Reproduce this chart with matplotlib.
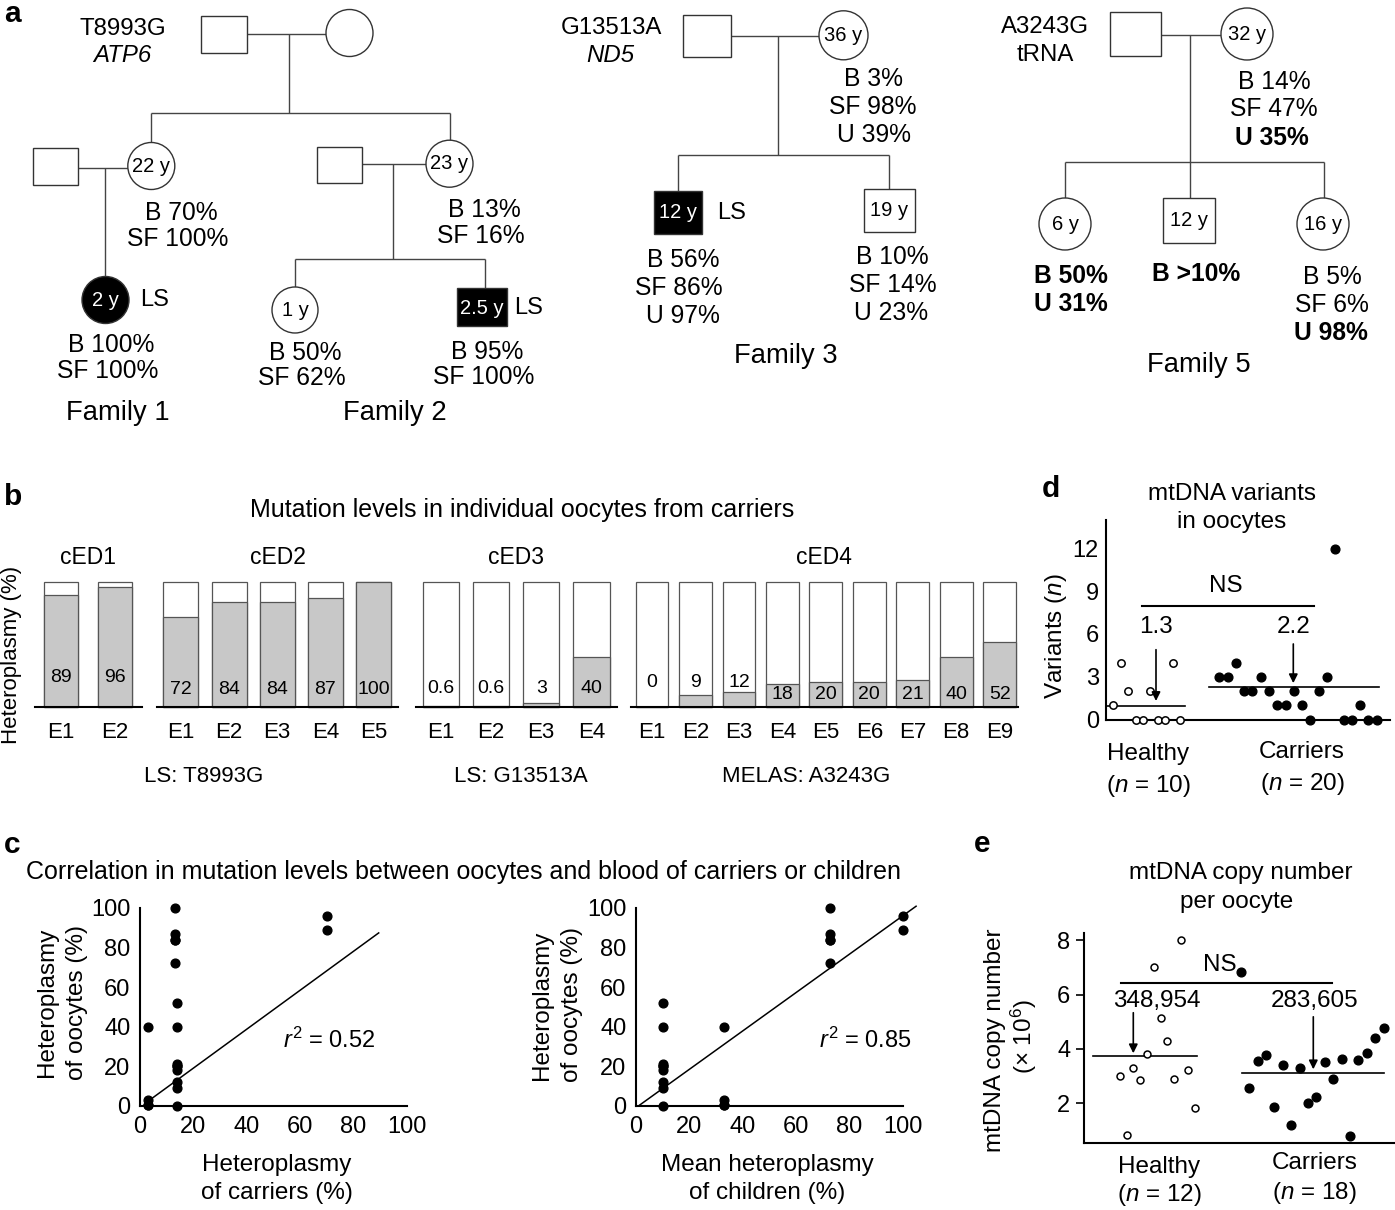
import numpy as np
import matplotlib
matplotlib.use('Agg')
import matplotlib.pyplot as plt
from matplotlib.patches import Rectangle, Circle

plt.rcParams['font.family'] = ['Liberation Sans', 'DejaVu Sans']
plt.rcParams['mathtext.fontset'] = 'custom'
plt.rcParams['mathtext.rm'] = 'Liberation Sans'
plt.rcParams['mathtext.it'] = 'Liberation Sans:italic'
plt.rcParams['mathtext.bf'] = 'Liberation Sans:bold'

# ------------------------------------------------------------------ data
# panel b : heteroplasmy (%) of individual oocytes
b_groups = ['cED1', 'cED2', 'cED3', 'cED4']
ced1_het = [89, 96]
ced2_het = [72, 84, 84, 87, 100]
ced3_het = [0.6, 0.6, 3, 40]
ced4_het = [0, 9, 12, 18, 20, 20, 21, 40, 52]
b_disease = ['LS: T8993G', 'LS: G13513A', 'MELAS: A3243G']

# panel c : oocyte heteroplasmy vs carrier blood / mean of children
c_left_x = [3, 3, 3, 3, 13, 13, 13, 13, 13, 14, 14, 14, 14, 14, 14, 14, 14, 14, 70, 70]
c_left_y = [0.6, 0.6, 3, 40, 72, 84, 84, 87, 100, 0, 9, 12, 18, 20, 20, 21, 40, 52, 89, 96]
c_right_x = [10, 10, 10, 10, 10, 10, 10, 10, 10, 33, 33, 33, 33, 72.5, 72.5, 72.5, 72.5, 72.5, 100, 100]
c_right_y = [0, 9, 12, 18, 20, 20, 21, 40, 52, 0.6, 0.6, 3, 40, 72, 84, 84, 87, 100, 89, 96]
c_fit_slope = [0.984, 0.970]
c_fit_intercept = [-0.55, -0.86]
c_fit_xrange = [(3.1, 89.4), (1.4, 104.9)]
c_r2 = [0.52, 0.85]

# panel d : number of mtDNA variants per oocyte
d_healthy = [1, 4, 2, 0, 0, 2, 0, 0, 4, 0]
d_carriers = [3, 3, 4, 2, 2, 3, 2, 1, 1, 2, 1, 0, 2, 3, 12, 0, 0, 1, 0, 0]
d_mean_line = [0.97, 2.3]
d_mean_label = ['1.3', '2.2']

# panel e : mtDNA copy number per oocyte (x 10^6)
e_healthy = [3.0, 0.85, 3.3, 2.87, 3.82, 7.0, 5.15, 4.3, 2.9, 8.0, 3.23, 1.81]
e_carriers = [6.84, 2.56, 3.57, 3.77, 1.85, 3.42, 1.21, 3.28, 2.01, 2.25, 3.51,
              2.89, 3.63, 0.81, 3.6, 3.84, 4.39, 4.76]
e_mean_line = [3.74, 3.10]
e_mean_label = ['348,954', '283,605']

# ------------------------------------------------------------------ figure
W, H = 1395, 1210
fig = plt.figure(figsize=(W / 100, H / 100), dpi=100)
bg = fig.add_axes([0, 0, 1, 1])
bg.set_xlim(0, W)
bg.set_ylim(H, 0)
bg.axis('off')


def px_axes(x0, x1, ytop, ybot):
    ax = fig.add_axes([x0 / W, 1 - ybot / H, (x1 - x0) / W, (ybot - ytop) / H])
    ax.patch.set_alpha(0)
    return ax


def txt(s, x, y, size=17.5, **kw):
    kw.setdefault('ha', 'center')
    kw.setdefault('va', 'center')
    bg.text(x, y, s, fontsize=size, **kw)


# panel letters
for lab, x, y in [('a', 4, 22), ('b', 4, 505), ('c', 4, 853), ('d', 1042, 497), ('e', 974, 852)]:
    bg.text(x, y, lab, fontsize=21.5, fontweight='bold', ha='left', va='baseline')

# ------------------------------------------------------------------ panel a (pedigrees)
LINE_C = '#444444'
ped_lines = [
    (246.7, 34, 325.7, 34), (289, 34, 289, 113.3), (151.3, 113.3, 449.5, 113.3),
    (151.3, 113.3, 151.3, 150), (449.5, 113.3, 449.5, 150),
    (78.3, 168.3, 130, 168.3), (105, 168.3, 105, 290),
    (361.7, 164, 430, 164), (393.3, 164, 393.3, 259.3), (295, 259.3, 484.7, 259.3),
    (295, 259.3, 295, 300), (484.7, 259.3, 484.7, 300),
    (731, 36, 825, 36), (778, 36, 778, 155), (678, 155, 889, 155),
    (678, 155, 678, 200), (889, 155, 889, 200),
    (1161, 35, 1230, 35), (1190, 35, 1190, 210), (1065, 161.7, 1324, 161.7),
    (1065, 161.7, 1065, 210), (1324, 161.7, 1324, 210),
]
for x0, y0, x1, y1 in ped_lines:
    bg.plot([x0, x1], [y0, y1], color=LINE_C, lw=1.0, zorder=1, solid_capstyle='butt')

ped_squares = [
    (201, 15.7, 246.7, 52.7, False), (33.3, 148.3, 78.3, 185, False),
    (316.7, 146.7, 361.7, 183.3, False), (456.7, 288.3, 506.7, 326, True),
    (683, 15, 731, 57, False), (653.7, 190.7, 702.3, 234, True),
    (863.5, 189, 914.9, 231.7, False), (1110, 11.7, 1161, 56, False),
    (1163, 198, 1215, 243, False),
]
for x0, y0, x1, y1, filled in ped_squares:
    bg.add_patch(Rectangle((x0, y0), x1 - x0, y1 - y0, facecolor='black' if filled else 'white',
                           edgecolor='#333333', lw=1.0, zorder=2))

ped_circles = [
    (349.5, 33, 23.5, False), (151.3, 166, 23.5, False), (449.5, 163.7, 23.5, False),
    (105.5, 300, 23.5, True), (295, 310, 23, False), (843.5, 35.3, 24.5, False),
    (1247, 34, 26, False), (1065, 224, 26, False), (1323, 224, 26, False),
]
for cx, cy, r, filled in ped_circles:
    bg.add_patch(Circle((cx, cy), r, facecolor='black' if filled else 'white',
                        edgecolor='#333333', lw=1.0, zorder=2))

ped_ages = [
    ('22 y', 151.3, 166, 'black'), ('23 y', 449.5, 163.7, 'black'), ('2 y', 105.5, 300, 'white'),
    ('1 y', 295, 310, 'black'), ('2.5 y', 481.7, 308.3, 'white'), ('36 y', 843.5, 35.3, 'black'),
    ('12 y', 678, 212.3, 'white'), ('19 y', 889, 210.3, 'black'), ('32 y', 1247, 34, 'black'),
    ('6 y', 1065, 224, 'black'), ('12 y', 1189, 220.5, 'black'), ('16 y', 1323, 224, 'black'),
]
for s, x, y, c in ped_ages:
    txt(s, x, y, size=14.5, color=c, zorder=3)

# gene labels
txt('T8993G', 123, 29, size=17.3)
txt('ATP6', 122, 56, size=17.3, style='italic')
txt('G13513A', 611, 28, size=17.3)
txt('ND5', 610, 56, size=17.3, style='italic')
txt('A3243G', 1045, 27, size=17.3)
txt('tRNA', 1045, 55, size=17.3)

# disease labels
for x, y in [(155, 300), (528.3, 308.3), (732, 213)]:
    txt('LS', x, y, size=17)

# heteroplasmy annotations (B blood, SF skin fibroblast, U urine)
ped_notes = [
    ('B 70%', 181, 213, 'normal'), ('SF 100%', 178, 239, 'normal'),
    ('B 100%', 111, 345, 'normal'), ('SF 100%', 108, 371, 'normal'),
    ('B 13%', 484, 210, 'normal'), ('SF 16%', 481, 236, 'normal'),
    ('B 50%', 305, 353, 'normal'), ('SF 62%', 302, 378, 'normal'),
    ('B 95%', 487, 352, 'normal'), ('SF 100%', 484, 377, 'normal'),
    ('B 3%', 873, 79, 'normal'), ('SF 98%', 873, 107, 'normal'), ('U 39%', 874, 135, 'normal'),
    ('B 56%', 683, 260, 'normal'), ('SF 86%', 679, 288, 'normal'), ('U 97%', 683, 316, 'normal'),
    ('B 10%', 892.5, 257, 'normal'), ('SF 14%', 892.5, 285, 'normal'), ('U 23%', 891, 313, 'normal'),
    ('B 14%', 1274, 82, 'normal'), ('SF 47%', 1274, 109, 'normal'), ('U 35%', 1272, 138, 'bold'),
    ('B 50%', 1071, 276, 'bold'), ('U 31%', 1071, 304, 'bold'),
    ('B >10%', 1196, 274, 'bold'),
    ('B 5%', 1332, 277, 'normal'), ('SF 6%', 1332, 305, 'normal'), ('U 98%', 1331, 333, 'bold'),
]
for s, x, y, w in ped_notes:
    txt(s, x, y, size=17.7, fontweight=w)

for s, x, y in [('Family 1', 117.5, 412.5), ('Family 2', 395, 412.5),
                ('Family 3', 786, 356), ('Family 5', 1198.5, 365)]:
    txt(s, x, y, size=19.7)

# ------------------------------------------------------------------ panel b
txt('Mutation levels in individual oocytes from carriers', 522, 510, size=18)
txt('Heteroplasmy (%)', 12, 655, size=16, rotation=90)

b_values = [ced1_het, ced2_het, ced3_het, ced4_het]
# layout: axis x0, x1, first bar centre, bar step, bar width (pixels)
b_layout = [(35, 141.7, 61.3, 53.4, 34), (156.7, 398.3, 180.8, 48.2, 35),
            (416, 616.7, 440.8, 50.2, 36.3), (630.7, 1018, 652, 43.46, 32.7)]
b_label_y = [[23, 23], [13.5] * 5, [14.5] * 4, [19.5, 19.5, 19.5] + [9.5] * 6]
BAR_EDGE = '#555555'
for vals, name, (x0, x1, c0, st, bw), laby in zip(b_values, b_groups, b_layout, b_label_y):
    ax = px_axes(x0, x1, 581.7, 706.7)
    idx = np.arange(len(vals))
    ax.bar(idx, np.full(len(vals), 100.0), width=bw / st, color='white', edgecolor=BAR_EDGE,
           lw=0.9, clip_on=False, zorder=1)
    ax.bar(idx, vals, width=bw / st, color='#c8c8c8', edgecolor=BAR_EDGE, lw=0.9,
           clip_on=False, zorder=1.5)
    ax.set_xlim(-(c0 - x0) / st, (x1 - c0) / st)
    ax.set_ylim(0, 100)
    for sp in ['left', 'right', 'top']:
        ax.spines[sp].set_visible(False)
    ax.spines['bottom'].set_linewidth(1.5)
    ax.spines['bottom'].set_zorder(3)
    ax.set_yticks([])
    ax.set_xticks(idx, [f'E{i + 1}' for i in idx])
    ax.tick_params(axis='x', length=0, pad=11, labelsize=16)
    ax.set_title(name, fontsize=16.5, pad=13)
    for i, v in enumerate(vals):
        ax.text(i, laby[i], f'{v:g}', ha='center', va='center', fontsize=14, zorder=4)

for s, x in zip(b_disease, [204, 521, 806]):
    txt(s, x, 777, size=16)

# ------------------------------------------------------------------ panel c
txt('Correlation in mutation levels between oocytes and blood of carriers or children',
    463.5, 872, size=18)
c_axes_x = [(140, 407), (636, 903)]
c_sets = [(c_left_x, c_left_y), (c_right_x, c_right_y)]
c_r2_pos = [(71, 33.4), (86, 33.2)]
for k in range(2):
    ax = px_axes(c_axes_x[k][0], c_axes_x[k][1], 908, 1106)
    xs, ys = c_sets[k]
    ax.plot(xs, ys, 'o', color='black', ms=6.3, ls='none', clip_on=False, zorder=3)
    xr = np.array(c_fit_xrange[k])
    ax.plot(xr, c_fit_slope[k] * xr + c_fit_intercept[k], color='black', lw=1.1,
            clip_on=False, zorder=2)
    ax.set_xlim(0, 100)
    ax.set_ylim(0, 100)
    for sp in ['right', 'top']:
        ax.spines[sp].set_visible(False)
    for sp in ['left', 'bottom']:
        ax.spines[sp].set_linewidth(1.5)
    ax.set_xticks([0, 20, 40, 60, 80, 100])
    ax.set_yticks([0, 20, 40, 60, 80, 100])
    ax.tick_params(length=0, labelsize=17, pad=7)
    ax.text(*c_r2_pos[k], r'$\mathit{r}^{2}$ = ' + f'{c_r2[k]:.2f}', ha='center', va='center',
            fontsize=17)

txt('Heteroplasmy', 47, 1002, rotation=90)
txt('of oocytes (%)', 77.5, 1002, rotation=90)
txt('Heteroplasmy', 277, 1165)
txt('of carriers (%)', 277, 1193)
txt('Heteroplasmy', 542, 1005, rotation=90)
txt('of oocytes (%)', 572, 1005, rotation=90)
txt('Mean heteroplasmy', 767, 1165)
txt('of children (%)', 767, 1193)

# ------------------------------------------------------------------ panel d
txt('mtDNA variants', 1232, 494, size=17.5)
txt('in oocytes', 1232, 522, size=17.5)
axd = px_axes(1105.7, 1390, 520, 719.5)
axd.set_xlim(0, 284.3)
axd.set_ylim(0, 14)
hx = 7.6 + 7.4 * np.arange(len(d_healthy))
cx = 113.6 + 8.28 * np.arange(len(d_carriers))
axd.plot(hx, d_healthy, 'o', mfc='white', mec='black', mew=1.1, ms=5.3, ls='none',
         clip_on=False, zorder=3)
axd.plot(cx, d_carriers, 'o', color='black', ms=6.3, ls='none', clip_on=False, zorder=3)
axd.plot([1.6, 78.9], [d_mean_line[0]] * 2, color='black', lw=1.2)
axd.plot([103.3, 273.3], [d_mean_line[1]] * 2, color='black', lw=1.2)
axd.plot([36.6, 208.6], [7.96, 7.96], color='black', lw=1.5)
axd.text(120, 9.4, 'NS', ha='center', va='center', fontsize=17.5)
for xa, lab, ytop, ytip in [(50.3, d_mean_label[0], 4.9, 1.3), (187.6, d_mean_label[1], 5.3, 2.55)]:
    axd.text(xa, 6.5, lab, ha='center', va='center', fontsize=17.5)
    axd.annotate('', xy=(xa, ytip), xytext=(xa, ytop),
                 arrowprops=dict(arrowstyle='-|>', color='black', lw=1.2, mutation_scale=13,
                                 shrinkA=0, shrinkB=0))
for sp in ['right', 'top']:
    axd.spines[sp].set_visible(False)
for sp in ['left', 'bottom']:
    axd.spines[sp].set_linewidth(1.5)
axd.set_xticks([])
axd.set_yticks([0, 3, 6, 9, 12])
axd.tick_params(length=0, labelsize=17, pad=5)
txt('Variants ($\\mathit{n}$)', 1056, 636, rotation=90)
txt('Healthy', 1148, 754)
txt('($\\mathit{n}$ = 10)', 1148, 786)
txt('Carriers', 1302, 752)
txt('($\\mathit{n}$ = 20)', 1302, 784)

# ------------------------------------------------------------------ panel e
txt('mtDNA copy number', 1240.5, 873, size=17.5)
txt('per oocyte', 1237, 902, size=17.5)
axe = px_axes(1084.3, 1395, 933.3, 1143.3)
axe.set_xlim(0, 310.7)
axe.set_ylim(0.53, 8.25)
ehx = 35.5 + 6.8 * np.arange(len(e_healthy))
ecx = 156.5 + 8.4 * np.arange(len(e_carriers))
axe.plot(ehx, e_healthy, 'o', mfc='white', mec='black', mew=1.1, ms=5.0, ls='none',
         clip_on=False, zorder=3)
axe.plot(ecx, e_carriers, 'o', color='black', ms=6.3, ls='none', clip_on=False, zorder=3)
axe.plot([9, 112.4], [e_mean_line[0]] * 2, color='black', lw=1.2)
axe.plot([157.4, 300], [e_mean_line[1]] * 2, color='black', lw=1.2)
axe.plot([36.4, 247.4], [6.43, 6.43], color='black', lw=1.5)
axe.text(135.7, 7.08, 'NS', ha='center', va='center', fontsize=17.5)
for xa, xl, lab, ytop, ytip in [(49, 72.4, e_mean_label[0], 5.33, 3.84),
                                (229, 230.7, e_mean_label[1], 5.18, 3.25)]:
    axe.text(xl, 5.77, lab, ha='center', va='center', fontsize=17.5)
    axe.annotate('', xy=(xa, ytip), xytext=(xa, ytop),
                 arrowprops=dict(arrowstyle='-|>', color='black', lw=1.2, mutation_scale=13,
                                 shrinkA=0, shrinkB=0))
for sp in ['right', 'top']:
    axe.spines[sp].set_visible(False)
for sp in ['left', 'bottom']:
    axe.spines[sp].set_linewidth(1.5)
axe.set_xticks([])
axe.set_yticks([2, 4, 6, 8])
axe.tick_params(axis='y', length=6, width=1.2, direction='out', labelsize=17, pad=4)
txt('mtDNA copy number', 995, 1040, rotation=90)
txt('(× 10$^{6}$)', 1023.5, 1037, rotation=90)
txt('Healthy', 1159.5, 1167)
txt('($\\mathit{n}$ = 12)', 1159.5, 1195)
txt('Carriers', 1314.5, 1163)
txt('($\\mathit{n}$ = 18)', 1314.5, 1193)

fig.savefig('out.png', dpi=100)
